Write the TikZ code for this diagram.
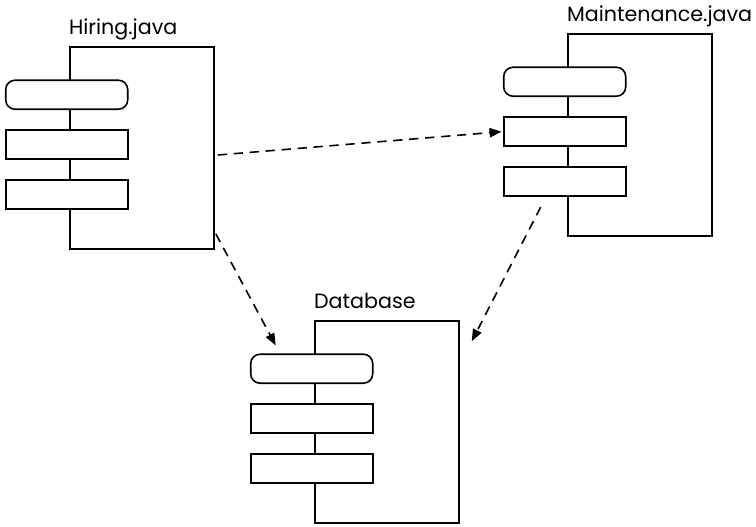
\documentclass[tikz,border=0pt]{standalone}
\usepackage{fontspec}
\setmainfont{Poppins}
\usetikzlibrary{arrows.meta,calc,positioning}

\begin{document}
\begin{tikzpicture}[x=0.75pt,y=-0.75pt,line width=1.2pt,
    comp/.style={draw,inner sep=0pt,minimum width=108pt,minimum height=151.5pt},
    part/.style={draw,fill=white,inner sep=0pt,minimum width=91.5pt,minimum height=21.75pt},
    lbl/.style={anchor=base west,inner sep=0pt,font=\fontsize{15.5}{19}\selectfont},
    dep/.style={-{Triangle[length=9pt,width=7pt]},dash pattern=on 7pt off 5pt}]
    \useasboundingbox (0,0) rectangle (756,526);

    \foreach \name/\title/\x/\y in {hire/Hiring.java/142/148,maint/Maintenance.java/640/135,db/Database/387/422}{
        \node[comp] (\name) at (\x,\y) {};
        \node[lbl] (\name-lbl) at ($(\name.north west)+(-1,-12)$) {\title};
        \node[part,rounded corners=7pt] (\name-1) at ($(\name.north west)+(-2.5,48.5)$) {};
        \node[part] (\name-2) at ($(\name.north west)+(-2.5,98.5)$) {};
        \node[part] (\name-3) at ($(\name.north west)+(-2.5,148.5)$) {};
    }

    \draw[dep] ($(hire.east)+(3,7)$) -- ([xshift=-1pt]maint-2.west);
    \draw[dep] ($(hire.south east)+(1,-16)$) -- ($(db-1.north)+(-36,-8)$);
    \draw[dep] ($(maint-3.south)+(-24,10)$) -- ($(db.north east)+(12,21)$);
\end{tikzpicture}
\end{document}
